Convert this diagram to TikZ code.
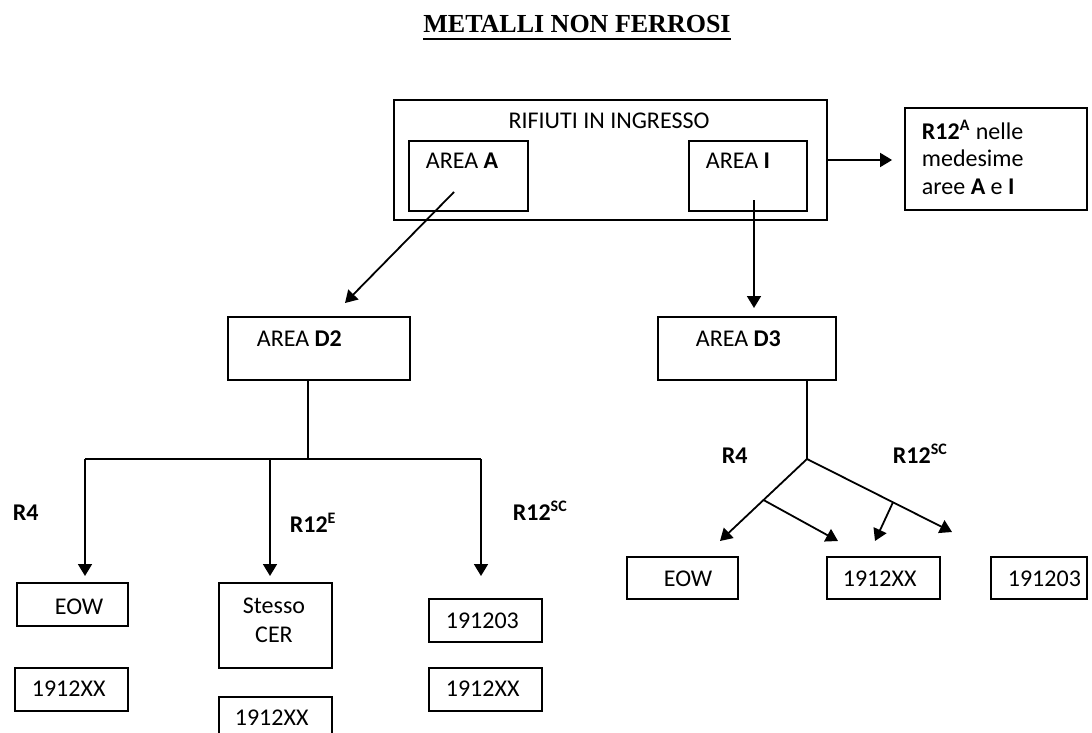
\documentclass[tikz,border=0pt]{standalone}
\usepackage{fontspec}
\setmainfont{Carlito}
\newfontfamily\titlefont{Liberation Serif}
\newcommand{\ulthick}[1]{\leavevmode\setbox0=\hbox{#1}\rlap{\copy0}\raisebox{-3.5pt}{\rule{\wd0}{1pt}}}
\usetikzlibrary{arrows.meta}
\usetikzlibrary{positioning}
\usetikzlibrary{fit,calc}

\begin{document}
\begin{tikzpicture}[x=0.5pt, y=-0.5pt, line width=0.9pt,
		font=\fontsize{12}{13.75}\selectfont,
		box/.style={draw, rectangle, inner sep=0pt},
		txt/.style={anchor=base west, inner sep=0pt},
		rlab/.style={anchor=base west, inner sep=0pt, font=\fontsize{12}{13.75}\selectfont\bfseries},
		arr/.style={-{Triangle[length=6pt, width=7pt]}}]

		\useasboundingbox (0,0) rectangle (1092,733);
		\clip (0,0) rectangle (1092,733);

		\node[inner sep=0pt, anchor=base, font=\titlefont\fontsize{13}{15}\selectfont] (title) at (577,33) {\ulthick{\textbf{METALLI NON FERROSI}}};

		% rifiuti in ingresso
		\node[box, fit={(394,100) (827,220)}] (ingr) {};
		\node[inner sep=0pt, anchor=base] (ingr-t) at (609,129) {RIFIUTI IN INGRESSO};
		\node[box, fit={(409,141) (528,211)}] (areaA) {};
		\node[txt] (areaA-t) at (425,169) {AREA \textbf{A}};
		\node[box, fit={(689,141) (807,211)}] (areaI) {};
		\node[txt] (areaI-t) at (705,169) {AREA \textbf{I}};
		\node[box, fit={(905,108) (1087,210)}] (r12a) {};
		\node[txt, align=left] (r12a-t) at (921,194) {\textbf{R12\textsuperscript{A}} nelle\\medesime\\aree \textbf{A} e \textbf{I}};
		\draw[arr, shorten >=6pt] (ingr.east) -- (ingr.east -| r12a.west);

		% aree D2 e D3
		\node[box, fit={(228,317) (410,380)}] (d2) {};
		\node[txt] (d2-t) at (256,346) {AREA \textbf{D2}};
		\node[box, fit={(658,317) (836,380)}] (d3) {};
		\node[txt] (d3-t) at (695,346) {AREA \textbf{D3}};

		\coordinate (a-out) at (454,192);
		\coordinate (d2-in) at (345,303);
		\coordinate (i-out) at (754,200);
		\coordinate (d3-in) at (754,308);
		\draw[arr] (a-out) -- (d2-in);
		\draw[arr] (i-out) -- (d3-in);

		% ramo D2
		\coordinate (d2-split) at (308,459);
		\coordinate (d2-l) at (85,459);
		\coordinate (d2-m) at (270,459);
		\coordinate (d2-r) at (481,459);
		\draw (d2-split |- d2.south) -- (d2-split);
		\draw (d2-l) -- (d2-r);
		\draw[arr] (d2-l) -- ++(0,117);
		\draw[arr] (d2-m) -- ++(0,117);
		\draw[arr] (d2-r) -- ++(0,117);
		\node[rlab] (d2-r4) at (12,520) {R4};
		\node[rlab] (d2-r12e) at (289,532) {R12\textsuperscript{E}};
		\node[rlab] (d2-r12sc) at (512,520) {R12\textsuperscript{SC}};

		\node[box, fit={(17,583) (128,626)}] (eow1) {};
		\node[txt] (eow1-t) at (54,614) {EOW};
		\node[box, fit={(15,668) (128,711)}] (xx1) {};
		\node[txt] (xx1-t) at (31,696) {1912XX};
		\node[box, fit={(219,583) (332,668)}] (stesso) {};
		\node[inner sep=0pt, align=center, anchor=base, font=\fontsize{12}{14.5}\selectfont] (stesso-t) at (274,642) {Stesso\\CER};
		\node[box, fit={(219,697) (332,760)}] (xx2) {};
		\node[txt] (xx2-t) at (234,725) {1912XX};
		\node[box, fit={(429,599) (542,642)}] (sc1) {};
		\node[txt] (sc1-t) at (445,628) {191203};
		\node[box, fit={(429,668) (542,711)}] (xx3) {};
		\node[txt] (xx3-t) at (445,696) {1912XX};

		% ramo D3
		\coordinate (d3-split) at (807,459);
		\coordinate (d3-lt) at (720,541);
		\coordinate (d3-rt) at (952,532);
		\coordinate (d3-lb) at ($(d3-split)!0.5!(d3-lt)$);
		\coordinate (d3-rb) at ($(d3-split)!0.593!(d3-rt)$);
		\draw (d3-split |- d3.south) -- (d3-split);
		\draw[arr] (d3-split) -- (d3-lt);
		\draw[arr] (d3-split) -- (d3-rt);
		\draw[arr] (d3-lb) -- (838,541);
		\draw[arr] (d3-rb) -- (875,541);
		\node[rlab] (d3-r4) at (721,463) {R4};
		\node[rlab] (d3-r12sc) at (892,463) {R12\textsuperscript{SC}};

		\node[box, fit={(627,557) (738,599)}] (eow2) {};
		\node[txt] (eow2-t) at (663,586) {EOW};
		\node[box, fit={(827,557) (940,599)}] (xx4) {};
		\node[txt] (xx4-t) at (842,586) {1912XX};
		\node[box, fit={(991,557) (1087,599)}] (sc2) {};
		\node[txt] (sc2-t) at (1007,586) {191203};
	\end{tikzpicture}
\end{document}
